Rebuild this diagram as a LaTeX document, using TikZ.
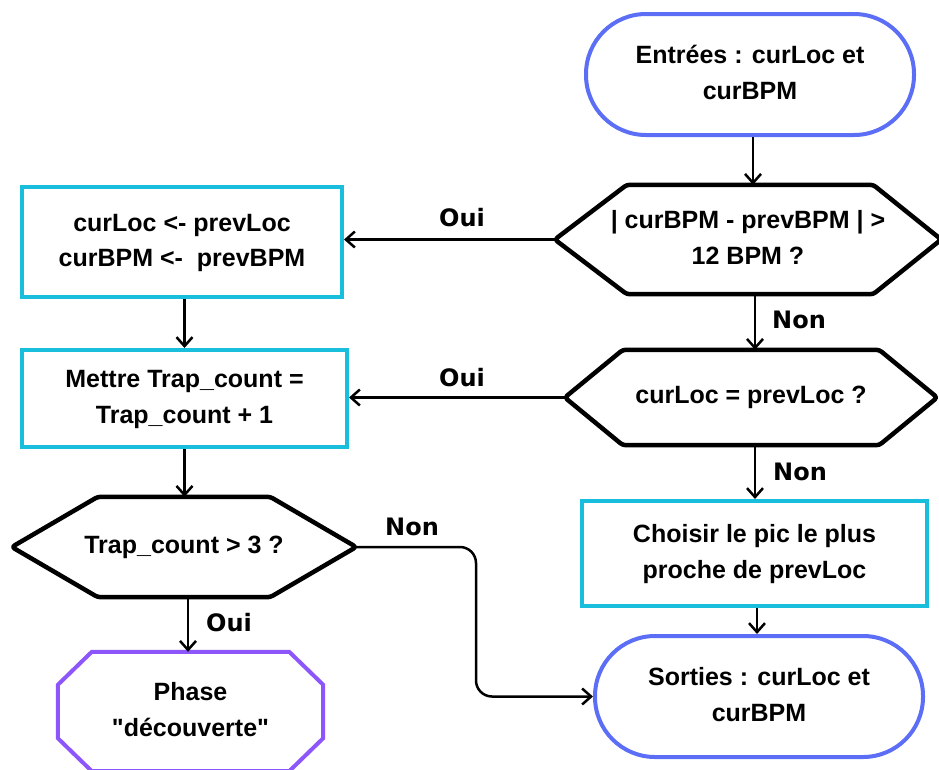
\documentclass[tikz,border=0pt]{standalone}
\usepackage{fontspec}
\setmainfont{Liberation Sans}[Ligatures=TeXOff]
\newfontfamily\lblfont{DejaVu Sans}
\usetikzlibrary{calc,arrows.meta}
\definecolor{stadblue}{RGB}{91,110,245}
\definecolor{boxcyan}{RGB}{24,190,220}
\definecolor{octpurple}{RGB}{140,86,250}
\begin{document}
\begin{tikzpicture}[x=1pt,y=-1pt,
  txt/.style={align=center,font=\fontsize{25}{35.5}\selectfont\bfseries,inner sep=0pt},
  stad/.style={txt,draw=stadblue,line width=4pt,rounded corners=60pt},
  cbox/.style={txt,draw=boxcyan,line width=4pt},
  hexn/.style={txt},
  hexline/.style={draw=black,line width=4.5pt,line join=round,rounded corners=3pt},
  octline/.style={draw=octpurple,line width=4pt,line join=miter},
  conn/.style={draw=black,line width=2.5pt,-{Straight Barb[length=9pt,width=16pt,line width=2.5pt]}},
  lbl/.style={font=\fontsize{24}{26}\lblfont\bfseries,inner sep=0pt}]
\useasboundingbox (0,0) rectangle (939,769);
\clip (0,0) rectangle (939,769);

% nodes
\node[stad,minimum width=328pt,minimum height=121pt] (s1) at (750,74.5) {\raisebox{3pt}{\begin{tabular}{@{}c@{}}Entrées : curLoc et\\curBPM\end{tabular}}};
\node[hexn,minimum width=386pt,minimum height=109pt] (h1) at (748,239.5) {\raisebox{4pt}{\begin{tabular}{@{}c@{}}| curBPM - prevBPM | >\\12 BPM ?\end{tabular}}};
\node[cbox,minimum width=320pt,minimum height=110pt] (r1) at (182,242) {\raisebox{2pt}{\begin{tabular}{@{}c@{}}curLoc <- prevLoc\\curBPM <-\ \ prevBPM\end{tabular}}};
\node[hexn,minimum width=372pt,minimum height=95pt] (h2) at (751,397.5) {curLoc = prevLoc ?};
\node[cbox,minimum width=325pt,minimum height=97pt] (r2) at (184.5,398.5) {\raisebox{2pt}{\begin{tabular}{@{}c@{}}Mettre Trap\_count =\\Trap\_count + 1\end{tabular}}};
\node[hexn,minimum width=344pt,minimum height=100pt] (h3) at (184,547) {Trap\_count > 3 ?};
\node[cbox,minimum width=345pt,minimum height=105pt] (r3) at (754.5,553.5) {\raisebox{3pt}{\begin{tabular}{@{}c@{}}Choisir le pic le plus\\proche de prevLoc\end{tabular}}};
\node[stad,minimum width=328pt,minimum height=121pt] (s2) at (759,696.5) {\raisebox{4pt}{\begin{tabular}{@{}c@{}}Sorties : curLoc et\\curBPM\end{tabular}}};
\node[txt,minimum width=265pt,minimum height=119pt] (o) at (190.5,711.5) {\raisebox{2pt}{\begin{tabular}{@{}c@{}}Phase\\"découverte"\end{tabular}}};

% hexagon outlines
\draw[hexline] (h1.west) -- ($(h1.north west)+(72,0)$) -- ($(h1.north east)+(-68,0)$) -- (h1.east) -- ($(h1.south east)+(-68,0)$) -- ($(h1.south west)+(72,0)$) -- cycle;
\draw[hexline] (h2.west) -- ($(h2.north west)+(58,0)$) -- ($(h2.north east)+(-58,0)$) -- (h2.east) -- ($(h2.south east)+(-58,0)$) -- ($(h2.south west)+(58,0)$) -- cycle;
\draw[hexline] (h3.west) -- ($(h3.north west)+(86,0)$) -- ($(h3.north east)+(-86,0)$) -- (h3.east) -- ($(h3.south east)+(-86,0)$) -- ($(h3.south west)+(86,0)$) -- cycle;
% octagon outline
\draw[octline] ($(o.north west)+(34,0)$) -- ($(o.north east)+(-34,0)$) -- ($(o.north east)+(0,33)$) -- ($(o.south east)+(0,-33)$) -- ($(o.south east)+(-34,0)$) -- ($(o.south west)+(34,0)$) -- ($(o.south west)+(0,-33)$) -- ($(o.north west)+(0,33)$) -- cycle;

% connectors
\coordinate (a1) at (753,0);
\draw[conn] (s1.south -| a1) -- (h1.north -| a1);
\draw[conn] (h1.west) -- (r1.east |- h1.west);
\coordinate (a2) at (755,0);
\draw[conn] (h1.south -| a2) -- (h2.north -| a2);
\draw[conn] (h2.west) -- (r2.east |- h2.west);
\draw[conn] (h2.south -| a2) -- (r3.north -| a2);
\draw[conn] (r1.south -| r2.north) -- (r2.north);
\draw[conn] (r2.south) -- (h3.north -| r2.south);
\coordinate (a3) at (188,0);
\draw[conn] (h3.south -| a3) -- (o.north -| a3);
\coordinate (a4) at (757,0);
\draw[conn] (r3.south -| a4) -- (s2.north -| a4);
\coordinate (bend) at (476,0);
\draw[conn,rounded corners=16pt] (h3.east) -- (h3.east -| bend) -- (bend |- s2.west) -- (s2.west);

% labels
\node[lbl] (l1) at (462,218) {Oui};
\node[lbl] (l2) at (462,378) {Oui};
\node[lbl] (l3) at (799,320) {Non};
\node[lbl] (l4) at (800,472) {Non};
\node[lbl] (l5) at (412,527) {Non};
\node[lbl] (l6) at (229,623) {Oui};
\end{tikzpicture}
\end{document}
